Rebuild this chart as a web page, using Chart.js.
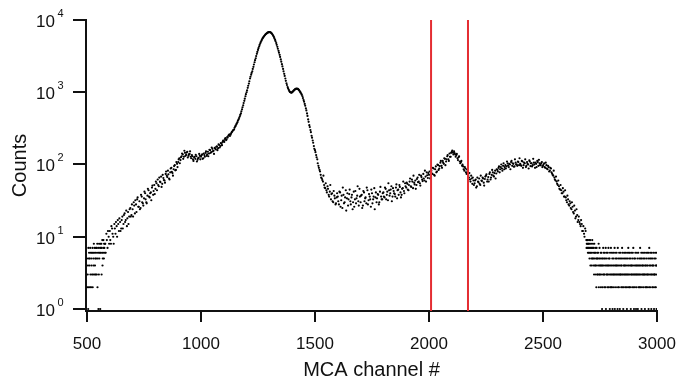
<!DOCTYPE html>
<html lang="en">
<head>
<meta charset="UTF-8">
<title>MCA spectrum</title>
<script src="https://cdn.jsdelivr.net/npm/chart.js"></script>
<style>
    body { margin: 0; background: #fff; }
</style>
</head>
<body>
<canvas id="spectrum" width="680" height="378"></canvas>
<script>
// low count tail: one digit per channel, from channel 500 (0 = empty channel)
const lowTailStart = 500;
const lowTail = '52034172560452736025' + '46307263548607345637' +
                '50736825071638506718' + '67083769450697587068';

// main spectrum, every 5th channel from 580
const mainStart = 580;
const mainStep = 5;
const mainCounts = [
    8, 11, 7, 10,
    12, 8, 13, 10, 15, 11, 14, 17, 12, 16, 13, 19, 15, 21, 17, 14, 22, 19, 25, 20,
    24, 30, 21, 28, 33, 26, 31, 25, 36, 29, 34, 40, 30, 37, 44, 35, 41, 48, 38, 52,
    46, 55, 62, 50, 58, 68, 54, 65, 60, 74, 70, 82, 64, 78, 90, 76, 86, 98, 84, 102,
    108, 122, 115, 130, 138, 128, 145, 136, 150, 132, 140, 128, 135, 118, 126, 120, 130, 116, 124, 132,
    128, 138, 122, 135, 145, 132, 150, 142, 158, 148, 165, 155, 170, 162, 178, 168, 186, 180, 195, 205,
    212, 225, 218, 240, 250, 262, 258, 280, 295, 305, 335, 360, 385, 420, 460, 510, 580, 660, 760, 880,
    1000, 1150, 1320, 1550, 1750, 1950, 2250, 2600, 2950, 3400, 3850, 4300, 4750, 5150, 5550, 5850, 6150, 6400, 6600, 6750,
    6800, 6750, 6550, 6200, 5800, 5300, 4800, 4250, 3750, 3300, 2850, 2450, 2100, 1800, 1550, 1330, 1180, 1080, 1010, 990,
    1000, 1040, 1080, 1110, 1120, 1110, 1070, 1010, 950, 880, 780, 690, 600, 510, 420, 350, 300, 250, 215, 180,
    158, 135, 118, 96, 84, 72, 64, 58, 52, 47, 44, 50, 38, 42, 33, 40, 30, 37, 28, 35,
    36, 28, 41, 32, 25, 38, 30, 44, 34, 27, 39, 31, 35, 24, 42, 33, 29, 37, 31, 46,
    30, 38, 27, 41, 34, 29, 44, 32, 36, 26, 40, 33, 47, 35, 30, 39, 28, 42, 36, 33,
    41, 35, 46, 38, 32, 44, 40, 50, 36, 43, 39, 48, 34, 45, 52, 41, 38, 47, 43, 55,
    48, 54, 44, 58, 50, 62, 47, 56, 60, 52, 66, 58, 55, 70, 62, 74, 60, 68, 78, 65,
    72, 64, 82, 74, 88, 70, 94, 80, 98, 88, 106, 96, 112, 102, 120, 110, 130, 118, 142, 128,
    150, 146, 152, 138, 135, 122, 126, 110, 108, 96, 94, 82, 88, 74, 80, 66, 62, 70, 54, 60,
    55, 62, 50, 58, 64, 52, 60, 66, 56, 63, 70, 58, 67, 74, 62, 72, 78, 68, 82, 75,
    84, 90, 78, 92, 88, 96, 86, 98, 94, 104, 92, 100, 108, 96, 102, 94, 106, 100, 110, 98,
    102, 96, 110, 98, 104, 92, 108, 100, 114, 95, 104, 98, 106, 90, 102, 112, 96, 104, 98, 108,
    96, 104, 90, 98, 86, 92, 82, 88, 75, 70, 66, 60, 58, 52, 50, 45, 44, 40, 42, 36,
    35, 30, 33, 27, 29, 24, 26, 21, 23, 19, 20, 17, 16, 14, 15, 12, 11, 13
];

// same range, every 5th channel from 582
const offStart = 582;
const offCounts = [
    6, 9, 12, 8,
    9, 14, 11, 8, 13, 16, 10, 15, 18, 12, 17, 13, 20, 16, 23, 18, 15, 24, 19, 28,
    19, 27, 32, 22, 35, 26, 24, 38, 30, 27, 42, 33, 29, 46, 36, 40, 32, 51, 43, 39,
    58, 44, 52, 66, 57, 49, 72, 61, 56, 80, 67, 73, 62, 88, 79, 70, 95, 83, 108, 92,
    118, 104, 126, 142, 120, 155, 132, 146, 125, 138, 152, 122, 130, 112, 128, 136, 110, 122, 140, 118,
    134, 120, 142, 128, 152, 138, 130, 160, 145, 172, 152, 140, 166, 176, 158, 190, 172, 198, 185, 214,
    205, 232, 222, 236, 255, 248, 270, 286, 300, 322, 345, 372, 405, 440, 485, 545, 620, 710, 815, 940,
    1060, 1230, 1420, 1640, 1850, 2100, 2420, 2780, 3170, 3620, 4080, 4520, 4950, 5350, 5700, 6000, 6280, 6500, 6680, 6800,
    6780, 6660, 6400, 6020, 5560, 5060, 4530, 4000, 3530, 3080, 2650, 2280, 1950, 1680, 1440, 1260, 1130, 1040, 1000, 985,
    1020, 1060, 1095, 1118, 1118, 1095, 1045, 985, 920, 830, 740, 650, 560, 470, 390, 330, 280, 235, 200, 165,
    148, 126, 104, 90, 80, 66, 61, 70, 48, 55, 41, 46, 36, 52, 39, 31, 43, 34, 29, 40,
    31, 42, 26, 37, 48, 29, 35, 23, 40, 33, 45, 28, 38, 30, 26, 43, 34, 50, 27, 36,
    37, 25, 43, 31, 35, 48, 28, 39, 33, 45, 29, 36, 24, 41, 34, 38, 30, 49, 33, 40,
    36, 48, 33, 42, 55, 37, 45, 31, 47, 40, 36, 53, 44, 38, 49, 35, 46, 58, 40, 50,
    56, 45, 52, 64, 49, 58, 70, 53, 46, 63, 57, 72, 51, 67, 59, 64, 82, 58, 71, 76,
    80, 66, 75, 90, 72, 86, 78, 100, 84, 95, 112, 90, 106, 122, 98, 118, 135, 112, 128, 145,
    156, 138, 144, 128, 140, 115, 130, 104, 112, 100, 86, 92, 78, 85, 70, 76, 58, 64, 66, 52,
    60, 48, 66, 57, 54, 70, 59, 64, 51, 68, 73, 62, 58, 78, 66, 84, 70, 76, 64, 86,
    80, 94, 86, 100, 82, 104, 92, 88, 110, 97, 102, 86, 112, 104, 93, 118, 100, 96, 108, 122,
    98, 112, 90, 106, 118, 96, 102, 88, 110, 104, 94, 120, 100, 106, 92, 108, 116, 98, 104, 92,
    100, 92, 106, 88, 96, 80, 90, 78, 72, 82, 62, 68, 54, 60, 46, 52, 40, 47, 36, 44,
    32, 37, 28, 31, 25, 30, 22, 27, 18, 24, 16, 19, 15, 17, 12, 14, 10, 12
];

// high count tail: one digit per channel, from channel 2690 to 3000
const highTailStart = 2690;
const highTail =
    '9789879687' + '8697586947' + '6857469578' + '5746385647' + '4635274563' +
    '5364825374' + '3546236451' + '4253746352' + '3645271436' + '5342634725' +
    '4351624372' + '3462513463' + '5243716345' + '2436543172' + '4352634153' +
    '6342543726' + '3514236453' + '4263542316' + '5342736452' + '3624513463' +
    '4253647231' + '5342563413' + '2463541362' + '4352437254' + '3615243463' +
    '5243635142' + '3462534263' + '4351627345' + '2463513642' + '5342463153' +
    '3264523416' + '4';

// window channels marked in red
const cutChannels = [2009, 2171];

const xTicks = [500, 1000, 1500, 2000, 2500, 3000];
const yTicks = [1, 10, 100, 1000, 10000];
const yExponents = ['0', '1', '2', '3', '4'];

const xMin = 495.6, xMax = 3000;
const yMin = 0.938, yMax = 10000;

const fontFamily = '"Liberation Sans", Arial, sans-serif';
const ink = '#111';

// build the points
const points = [];
lowTail.split('').forEach((d, i) => {
    const c = Number(d);
    if (c > 0) points.push({ x: lowTailStart + i, y: c });
});
mainCounts.forEach((c, i) => points.push({ x: mainStart + i * mainStep, y: c }));
offCounts.forEach((c, i) => points.push({ x: offStart + i * mainStep, y: c }));
highTail.split('').forEach((d, i) => {
    const c = Number(d);
    if (c > 0) points.push({ x: highTailStart + i, y: c });
});

const cutDatasets = cutChannels.map(ch => ({
    type: 'line',
    data: [{ x: ch, y: yMin }, { x: ch, y: yMax }],
    borderColor: 'rgb(228, 45, 50)',
    borderWidth: 2,
    pointRadius: 0,
    fill: false,
    order: 0
}));

// 10^n labels for the log axis
const yLabelPlugin = {
    id: 'yLabels',
    afterDraw(chart) {
        const ctx = chart.ctx;
        const yScale = chart.scales.y;
        ctx.save();
        ctx.fillStyle = ink;
        ctx.textBaseline = 'alphabetic';
        yTicks.forEach((v, i) => {
            const py = yScale.getPixelForValue(v);
            ctx.font = '17px ' + fontFamily;
            ctx.textAlign = 'right';
            ctx.fillText('10', 55, py + 7);
            ctx.font = '11px ' + fontFamily;
            ctx.textAlign = 'left';
            ctx.fillText(yExponents[i], 57.5, py - 3);
        });
        ctx.restore();
    }
};

new Chart(document.getElementById('spectrum'), {
    type: 'scatter',
    data: {
        datasets: [
            ...cutDatasets,
            {
                data: points,
                backgroundColor: '#000',
                pointRadius: 1.1,
                pointBorderWidth: 0,
                showLine: false,
                order: 1
            }
        ]
    },
    options: {
        responsive: false,
        animation: false,
        events: [],
        layout: { padding: { left: 0, right: 23, top: 20, bottom: 0 } },
        plugins: {
            legend: { display: false },
            tooltip: { enabled: false }
        },
        scales: {
            x: {
                type: 'linear',
                min: xMin,
                max: xMax,
                afterBuildTicks: s => { s.ticks = xTicks.map(v => ({ value: v })); },
                afterFit: s => {
                    s.height = 67;
                    s.paddingLeft = 0;
                    s.paddingRight = 0;
                },
                ticks: {
                    autoSkip: false,
                    maxRotation: 0,
                    padding: 12,
                    color: ink,
                    font: { family: fontFamily, size: 17 },
                    callback: v => String(v)
                },
                grid: { drawOnChartArea: false, drawTicks: true, tickLength: 11, color: ink, lineWidth: 2 },
                border: { display: true, color: ink, width: 2 },
                title: {
                    display: true,
                    text: 'MCA channel #',
                    color: ink,
                    font: { family: fontFamily, size: 20, lineHeight: 0.8 },
                    padding: { top: 0, bottom: 0 }
                }
            },
            y: {
                type: 'logarithmic',
                min: yMin,
                max: yMax,
                afterBuildTicks: s => { s.ticks = yTicks.map(v => ({ value: v })); },
                afterFit: s => { s.width = 86; },
                ticks: { display: false },
                grid: { drawOnChartArea: false, drawTicks: true, tickLength: 13, color: ink, lineWidth: 2 },
                border: { display: true, color: ink, width: 2 },
                title: {
                    display: true,
                    text: 'Counts',
                    color: ink,
                    font: { family: fontFamily, size: 20 },
                    padding: { top: 8, bottom: 0 }
                }
            }
        }
    },
    plugins: [yLabelPlugin]
});
</script>
</body>
</html>
